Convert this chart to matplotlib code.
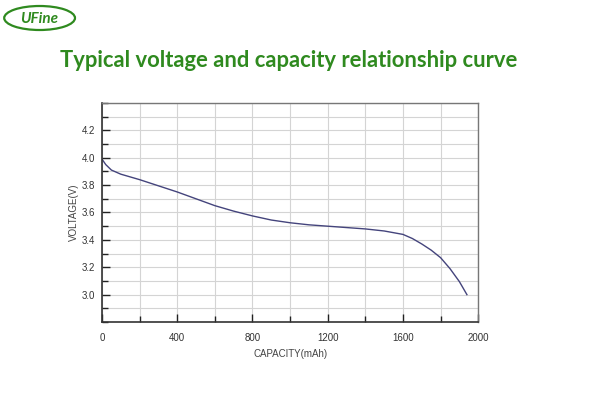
import matplotlib
matplotlib.use("Agg")
import matplotlib.pyplot as plt
from matplotlib.patches import Ellipse
from matplotlib.ticker import MultipleLocator, FixedLocator

# data
capacity = [0, 20, 50, 100, 200, 300, 400, 500, 600, 700, 800, 900, 1000,
            1100, 1200, 1300, 1400, 1500, 1600, 1650, 1700, 1750, 1800,
            1850, 1900, 1940]
voltage = [3.99, 3.95, 3.91, 3.88, 3.84, 3.795, 3.75, 3.70, 3.65, 3.61,
           3.575, 3.545, 3.525, 3.51, 3.50, 3.49, 3.48, 3.465, 3.44, 3.41,
           3.37, 3.325, 3.27, 3.19, 3.095, 3.00]
x_labels = [0, 400, 800, 1200, 1600, 2000]
y_labels = [3.0, 3.2, 3.4, 3.6, 3.8, 4.0, 4.2]

plt.rcParams['font.family'] = ['Liberation Sans', 'DejaVu Sans']

fig = plt.figure(figsize=(6, 4), dpi=100)
ax = fig.add_axes([0.17, 0.195, 0.627, 0.5475])

ax.plot(capacity, voltage, color='#44447c', lw=1.0)
ax.set_xlim(0, 2000)
ax.set_ylim(2.8, 4.4)

ax.xaxis.set_major_locator(FixedLocator(x_labels))
ax.xaxis.set_minor_locator(MultipleLocator(200))
ax.yaxis.set_major_locator(FixedLocator(y_labels))
ax.yaxis.set_minor_locator(MultipleLocator(0.1))
ax.set_yticklabels([f"{v:.1f}" for v in y_labels])
ax.grid(True, which='both', color='#d4d4d4', lw=0.8)
ax.set_axisbelow(True)

ax.tick_params(which='major', direction='in', length=6, width=1, color='#222222',
               labelsize=7, labelcolor='#333333', pad=8)
ax.tick_params(which='minor', direction='in', length=4, width=1, color='#222222')
ax.tick_params(axis='y', pad=5)

for side in ['left', 'bottom']:
    ax.spines[side].set_color('#333333')
    ax.spines[side].set_linewidth(1.2)
for side in ['top', 'right']:
    ax.spines[side].set_color('#777777')
    ax.spines[side].set_linewidth(1.0)

ax.set_xlabel("CAPACITY(mAh)", fontsize=7, color='#444444', labelpad=4)
ax.set_ylabel("VOLTAGE(V)", fontsize=7, color='#444444', labelpad=2)

fig.text(0.4815, 0.848, "Typical voltage and capacity relationship curve",
         ha='center', va='center', fontsize=15.8, fontweight='bold',
         color='#2f8a1f', family='Lato')

# logo
logo = Ellipse((0.066, 0.955), 0.118, 0.06, transform=fig.transFigure,
               fill=False, edgecolor='#2f8a1f', lw=1.6)
fig.patches.append(logo)
fig.text(0.066, 0.953, "UFine", ha='center', va='center', fontsize=11,
         fontweight='bold', color='#2f8a1f', family='Lato', style='italic')

fig.savefig("out.png", dpi=100)
